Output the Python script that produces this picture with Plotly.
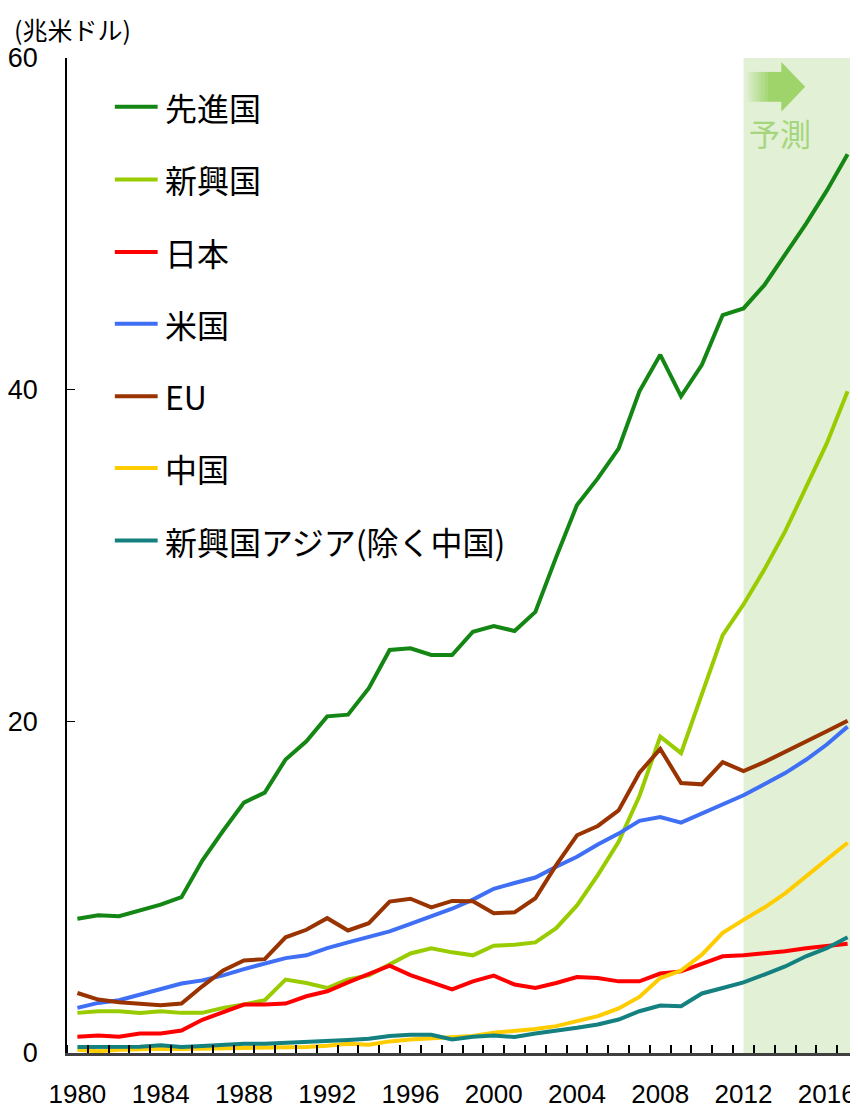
import plotly.graph_objects as go

years = list(range(1980, 2018))

advanced = [8.1, 8.3, 8.25, 8.6, 8.95, 9.4, 11.6, 13.4, 15.1, 15.7,
            17.7, 18.8, 20.3, 20.4, 22.0, 24.3, 24.4, 24.0, 24.0, 25.4,
            25.75, 25.45, 26.6, 29.9, 33.05, 34.65, 36.45, 39.9, 42.1, 39.6,
            41.5, 44.5, 44.9, 46.3, 48.1, 50.0, 52.0, 54.2]
emerging = [2.42, 2.52, 2.52, 2.42, 2.52, 2.42, 2.42, 2.72, 2.92, 3.19,
            4.43, 4.22, 3.92, 4.43, 4.68, 5.33, 6.0, 6.32, 6.07, 5.89,
            6.47, 6.53, 6.67, 7.53, 8.9, 10.73, 12.73, 15.5, 19.08, 18.08,
            21.64, 25.2, 27.05, 29.15, 31.45, 34.05, 36.76, 39.9]
japan = [0.98, 1.06, 0.98, 1.18, 1.18, 1.36, 2.0, 2.46, 2.92, 2.92,
         2.98, 3.42, 3.72, 4.26, 4.79, 5.27, 4.7, 4.26, 3.84, 4.32,
         4.67, 4.13, 3.92, 4.22, 4.58, 4.52, 4.32, 4.32, 4.79, 4.92,
         5.39, 5.83, 5.89, 5.99, 6.13, 6.32, 6.47, 6.59]
usa = [2.72, 3.02, 3.18, 3.52, 3.89, 4.19, 4.38, 4.68, 5.06, 5.39,
       5.72, 5.89, 6.32, 6.67, 7.03, 7.33, 7.79, 8.23, 8.7, 9.25,
       9.9, 10.25, 10.58, 11.23, 11.83, 12.57, 13.23, 14.0, 14.23, 13.89,
       14.43, 15.0, 15.54, 16.2, 16.88, 17.68, 18.6, 19.68]
eu = [3.62, 3.22, 3.06, 2.98, 2.88, 2.98, 4.02, 4.98, 5.58, 5.66,
      6.98, 7.43, 8.13, 7.39, 7.83, 9.13, 9.3, 8.78, 9.17, 9.15,
      8.43, 8.48, 9.33, 11.33, 13.13, 13.69, 14.63, 16.9, 18.34, 16.28,
      16.2, 17.54, 17.0, 17.54, 18.14, 18.8, 19.4, 20.04]
china = [0.2, 0.1, 0.2, 0.24, 0.26, 0.24, 0.26, 0.28, 0.34, 0.38,
         0.34, 0.36, 0.44, 0.56, 0.5, 0.7, 0.82, 0.88, 0.92, 1.02,
         1.22, 1.32, 1.45, 1.62, 1.92, 2.22, 2.69, 3.38, 4.52, 4.97,
         5.93, 7.25, 8.03, 8.77, 9.63, 10.68, 11.67, 12.68]
asia = [0.36, 0.36, 0.36, 0.38, 0.46, 0.36, 0.42, 0.52, 0.56, 0.56,
        0.62, 0.62, 0.68, 0.78, 0.86, 1.02, 1.10, 1.10, 0.82, 0.98,
        1.06, 0.96, 1.18, 1.32, 1.52, 1.72, 2.02, 2.52, 2.86, 2.82,
        3.59, 3.92, 4.26, 4.73, 5.22, 5.83, 6.32, 6.98]

names = ["先進国", "新興国", "日本", "米国", "EU", "中国", "新興国アジア(除く中国)"]
series = [advanced, emerging, japan, usa, eu, china, asia]
colors = ["#138613", "#99cc00", "#ff0000", "#3f6ff5", "#993300", "#ffcc00", "#148080"]

x_labels = [1980, 1984, 1988, 1992, 1996, 2000, 2004, 2008, 2012, 2016]
y_ticks = [0, 20, 40, 60]
forecast_start = 2012

# page has an 8px body margin, so the figure is sized to fill the rest
OFF = 8
W, H = 858 - OFF, 1109 - OFF
L, R, T, B = 64 - OFF, 0, 58 - OFF, 51


def px(x):
    return (x - OFF - L) / (W - L - R)


def py(y):
    return (H - B - (y - OFF)) / (H - T - B)


fig = go.Figure()

for name, vals, col in zip(names, series, colors):
    fig.add_trace(go.Scatter(x=years, y=vals, mode="lines", name=name,
                             line=dict(color=col, width=4), showlegend=False))

# forecast shading
fig.add_shape(type="rect", xref="x", yref="paper", x0=forecast_start, x1=2017.5,
              y0=0, y1=1, fillcolor="#e2f0d6", line_width=0, layer="below")

# arrow with faded tail
arrow_col = "#9fd46b"
n = 10
for i in range(n):
    x0 = 747 + i * 2
    fig.add_shape(type="rect", xref="paper", yref="paper",
                  x0=px(x0), x1=px(x0 + 2.2), y0=py(102), y1=py(72),
                  fillcolor=arrow_col, opacity=(i + 1) / (n + 1), line_width=0)
fig.add_shape(type="rect", xref="paper", yref="paper",
              x0=px(767), x1=px(782), y0=py(102), y1=py(72),
              fillcolor=arrow_col, line_width=0)
fig.add_shape(type="path", xref="paper", yref="paper",
              path=f"M {px(781)},{py(62)} L {px(805)},{py(87)} L {px(781)},{py(112)} Z",
              fillcolor=arrow_col, line_width=0)

fig.add_annotation(text="予測", xref="paper", yref="paper", x=px(780), y=py(133),
                   xanchor="center", yanchor="middle", showarrow=False,
                   font=dict(family="Noto Sans CJK JP", size=31, color="#a5d67c"))

# legend drawn by hand
row_y = [107, 180, 253, 325, 398, 470, 543]
for name, col, ry in zip(names, colors, row_y):
    fig.add_shape(type="line", xref="paper", yref="paper",
                  x0=px(112), x1=px(155), y0=py(ry), y1=py(ry),
                  line=dict(color=col, width=4))
    fig.add_annotation(text=name, xref="paper", yref="paper", x=px(160), y=py(ry),
                       xanchor="left", yanchor="middle", showarrow=False,
                       font=dict(family="Noto Sans CJK JP", size=32, color="#000000"))

fig.add_annotation(text="(兆米ドル)", xref="paper", yref="paper", x=px(9), y=1.0 + (T - 0.5) / (H - T - B),
                   xanchor="left", yanchor="top", showarrow=False,
                   font=dict(family="Noto Sans CJK JP", size=25, color="#000000"))

fig.update_layout(
    width=W, height=H,
    margin=dict(l=L, r=R, t=T, b=B),
    plot_bgcolor="white", paper_bgcolor="white",
    xaxis=dict(range=[1979.5, 2017.5], tickvals=x_labels, ticks="",
               showgrid=False, zeroline=False,
               showline=True, linecolor="#404040", linewidth=3,
               ticklabelstandoff=16,
               tickfont=dict(family="Liberation Sans Narrow, Liberation Sans", size=26, color="#000000"),
               minor=dict(tick0=1979.5, dtick=1, ticks="inside", ticklen=8,
                          tickwidth=1.5, tickcolor="#000000", showgrid=False)),
    yaxis=dict(range=[0, 60], tickvals=y_ticks, ticks="inside", ticklen=8,
               tickcolor="#000000", showgrid=False, zeroline=False,
               showline=True, linecolor="#000000", linewidth=1.5,
               ticklabelstandoff=22,
               tickfont=dict(family="Liberation Sans", size=27, color="#000000")),
)

fig.write_html("out.html")
